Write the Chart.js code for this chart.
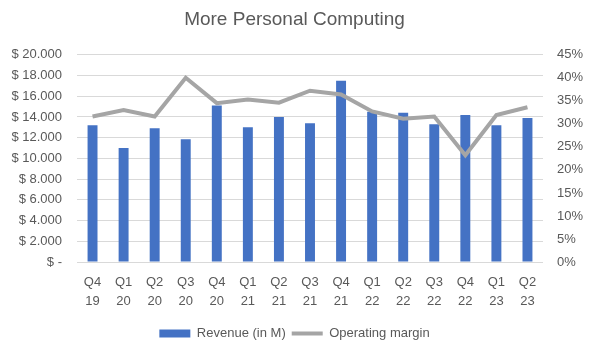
<!DOCTYPE html>
<html>
<head>
<meta charset="utf-8">
<script src="https://cdn.jsdelivr.net/npm/chart.js@4"></script>
<style>
  html, body { margin: 0; padding: 0; background: #fff; }
  #wrap { width: 589px; height: 350px; }
</style>
</head>
<body>
<div id="wrap"><canvas id="chart" width="589" height="350"></canvas></div>
<script>
// quarters (two-line labels)
const quarters = [
  ['Q4', '19'], ['Q1', '20'], ['Q2', '20'], ['Q3', '20'], ['Q4', '20'],
  ['Q1', '21'], ['Q2', '21'], ['Q3', '21'], ['Q4', '21'], ['Q1', '22'],
  ['Q2', '22'], ['Q3', '22'], ['Q4', '22'], ['Q1', '23'], ['Q2', '23']
];
const revenue = [13200, 11000, 12900, 11850, 15100, 13000, 14000, 13400, 17500, 14500, 14400, 13300, 14200, 13200, 13900];
const margin = [31.6, 33.0, 31.6, 40.0, 34.5, 35.3, 34.6, 37.2, 36.4, 32.7, 31.1, 31.6, 23.2, 31.9, 33.6];

const txt = '#595959';
const fontFam = "'Liberation Sans', 'DejaVu Sans', sans-serif";

function dollars(v) {
  if (v === 0) return '$ -';
  return '$ ' + v.toLocaleString('de-DE');
}

new Chart(document.getElementById('chart'), {
  type: 'bar',
  data: {
    labels: quarters,
    datasets: [
      {
        type: 'bar',
        label: 'Revenue (in M)',
        data: revenue,
        backgroundColor: '#4472c4',
        categoryPercentage: 1,
        barPercentage: 0.32,
        yAxisID: 'y',
        pointStyle: 'rect',
        order: 2
      },
      {
        type: 'line',
        label: 'Operating margin',
        data: margin,
        borderColor: '#a5a5a5',
        backgroundColor: '#a5a5a5',
        borderWidth: 4,
        pointRadius: 0,
        tension: 0,
        yAxisID: 'y1',
        pointStyle: 'line',
        order: 1
      }
    ]
  },
  options: {
    responsive: false,
    animation: false,
    layout: { padding: { left: 0, right: 0, top: 0, bottom: 0 } },
    plugins: {
      title: {
        display: true,
        text: 'More Personal Computing',
        color: txt,
        font: { family: fontFam, size: 19, weight: 'normal' },
        padding: { top: 8, bottom: 24 }
      },
      legend: {
        position: 'bottom',
        labels: {
          color: txt,
          font: { family: fontFam, size: 13 },
          usePointStyle: true,
          pointStyleWidth: 31,
          boxHeight: 8,
          padding: 6,
          sort: (a, b) => a.datasetIndex - b.datasetIndex
        }
      },
      tooltip: { enabled: false }
    },
    scales: {
      x: {
        grid: { display: false },
        border: { display: false },
        ticks: { color: txt, font: { family: fontFam, size: 13, lineHeight: 1.45 }, maxRotation: 0, padding: 3 },
        afterFit: s => { s.height = 59; }
      },
      y: {
        position: 'left',
        min: 0,
        max: 20000,
        ticks: { stepSize: 2000, color: txt, font: { family: fontFam, size: 13 }, padding: 15, callback: dollars },
        grid: { color: '#d9d9d9', lineWidth: 1, drawTicks: false },
        border: { display: false },
        afterFit: s => { s.width = 77; }
      },
      y1: {
        position: 'right',
        min: 0,
        max: 45,
        ticks: { stepSize: 5, color: txt, font: { family: fontFam, size: 13 }, padding: 14, callback: v => v + '%' },
        grid: { drawOnChartArea: false, drawTicks: false },
        border: { display: false },
        afterFit: s => { s.width = 46; }
      }
    }
  }
});
</script>
</body>
</html>
